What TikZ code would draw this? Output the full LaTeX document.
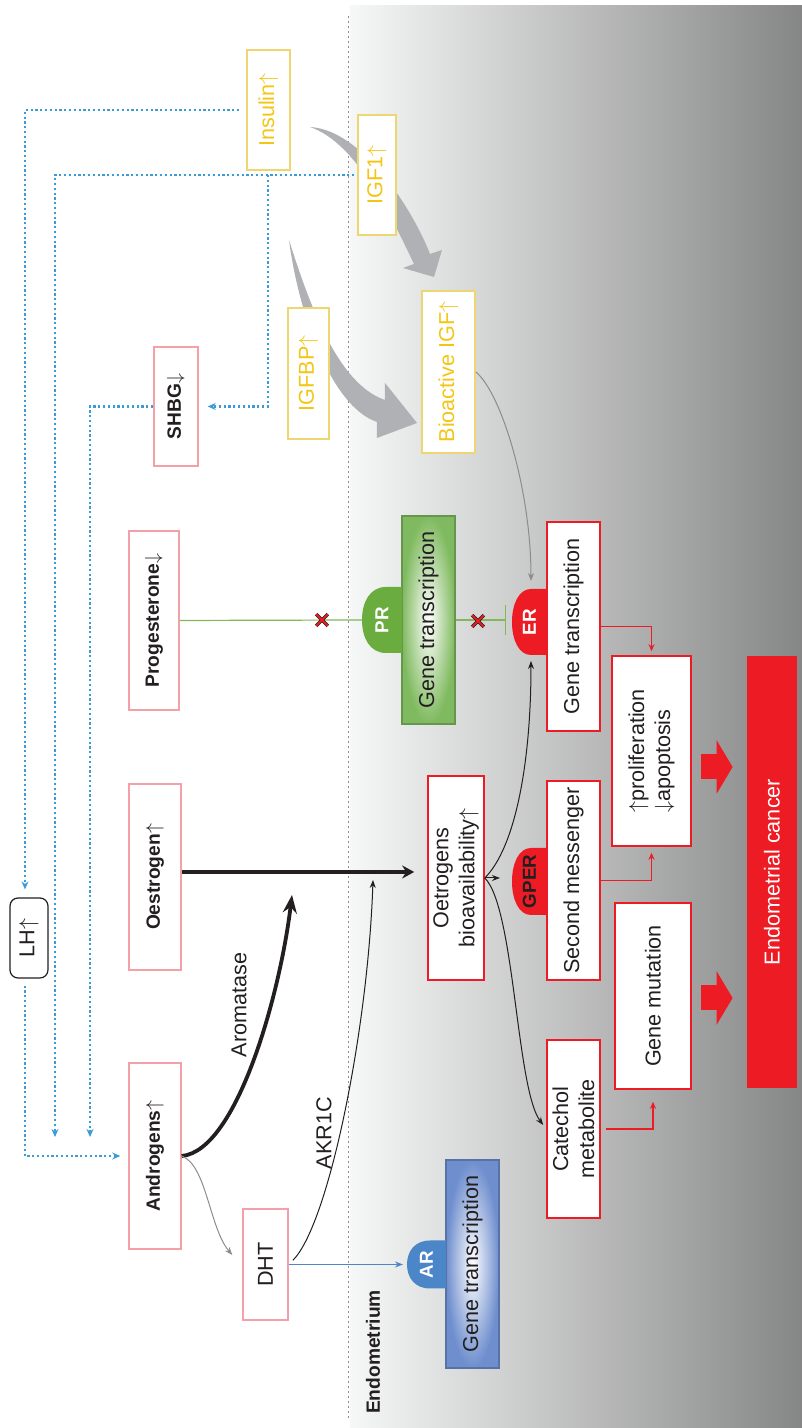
\documentclass[tikz,border=0pt]{standalone}
\usepackage{fontspec}
\setmainfont{Liberation Sans}
\usetikzlibrary{arrows.meta,shapes.misc}

\definecolor{inkblack}{RGB}{35,31,32}
\definecolor{pinkline}{RGB}{244,160,168}
\definecolor{igfline}{RGB}{238,214,112}
\definecolor{igftext}{RGB}{244,198,20}
\definecolor{bloodred}{RGB}{237,28,36}
\definecolor{prgreen}{RGB}{106,172,62}
\definecolor{boxgreen}{RGB}{128,186,96}
\definecolor{arblue}{RGB}{74,134,200}
\definecolor{boxblue}{RGB}{110,142,206}
\definecolor{dotblue}{RGB}{58,155,216}
\definecolor{arrowgray}{RGB}{176,177,181}
\definecolor{bgleft}{RGB}{246,247,247}
\definecolor{bgright}{RGB}{134,134,134}

\tikzset{
  hormone/.style={draw=pinkline, fill=white, line width=0.7pt, inner sep=0pt,
    font=\fontsize{9.6}{11}\selectfont\bfseries, text=inkblack},
  igfbox/.style={draw=igfline, fill=white, line width=0.8pt, inner sep=0pt,
    font=\fontsize{10.8}{13}\selectfont, text=igftext},
  erbox/.style={draw=bloodred, fill=white, line width=0.8pt, inner sep=0pt,
    font=\fontsize{10.8}{13}\selectfont, text=inkblack, align=center},
  genebox/.style={draw=#1!80!black, line width=0.6pt, inner color=white, outer color=#1,
    inner sep=0pt, font=\fontsize{10.8}{13}\selectfont, text=inkblack},
  plainlabel/.style={inner sep=0pt, font=\fontsize{10.8}{13}\selectfont, text=inkblack},
  boldlabel/.style={inner sep=0pt, font=\fontsize{9.6}{11}\selectfont\bfseries, text=inkblack},
  receptorlabel/.style={inner sep=0pt, font=\fontsize{9.4}{11}\selectfont\bfseries},
  sepline/.style={draw=black!45, line width=0.5pt, dash pattern=on 1pt off 1.5pt},
  dotarrow/.style={draw=dotblue, line width=1.1pt, dash pattern=on 1.1pt off 1.3pt,
    -{Stealth[length=4pt,width=3.5pt]}},
  thinarrow/.style={draw=inkblack, line width=0.5pt, -{Stealth[length=4pt,width=3pt]}},
  grayarrow/.style={draw=black!45, line width=0.5pt, -{Stealth[length=4pt,width=3pt]}},
  bluearrow/.style={draw=arblue, line width=0.6pt, -{Stealth[length=4pt,width=3pt]}},
  redarrow/.style={draw=bloodred, line width=0.6pt, -{Stealth[length=3.5pt,width=3pt]}},
  greenline/.style={draw=prgreen!85, line width=0.6pt},
  thickarrow/.style={draw=inkblack, line width=2pt, -{Stealth[length=6pt,width=6.5pt]}},
  aromarrow/.style={draw=inkblack, line width=1.9pt, -{Stealth[length=9pt,width=7pt]}},
  blockarrow/.style={draw=bloodred, line width=12.5pt, -{Triangle[length=8pt,width=26.5pt]},
    shorten <=4.5pt, shorten >=7pt},
  redx/.style={cross out, draw=inkblack, double=bloodred, double distance=1pt,
    line width=0.35pt, minimum size=5.5pt, inner sep=0pt}
}

\newcommand{\receptor}[7]{%
  \begin{scope}[shift={#2}]
    \fill[#5] (-#3,0) -- (-#3,16) .. controls (-#3,0.8*#4) and (-0.55*#3,#4) .. (0,#4)
      .. controls (0.55*#3,#4) and (#3,0.8*#4) .. (#3,16) -- (#3,0) -- cycle;
    \node[receptorlabel, text=#6] (#1) at (0,0.5*#4) {#7};
    \coordinate (#1-n) at (0,#4);
    \coordinate (#1-w) at (-#3,16);
    \coordinate (#1-e) at (#3,16);
  \end{scope}}

\begin{document}
\begin{tikzpicture}[x=0.5pt,y=0.5pt]
\useasboundingbox (-802,0) rectangle (0,1428);
\shade[left color=bgleft, right color=bgright] (-452,0) rectangle (0,1422);
\begin{scope}[rotate=90, transform shape]
\draw[sepline] (10,453) -- (1412,453);

\fill[arrowgray] (1301,492) .. controls (1298,440) and (1220,390) .. (1174,372) -- (1178,360)
  -- (1151,368) -- (1160,399) -- (1164,388) .. controls (1210,410) and (1285,445) .. (1301,492) -- cycle;
\fill[arrowgray] (1188,513) .. controls (1118,504) and (1022,472) .. (1006,425) -- (990,425)
  -- (1005,385) -- (1045,417) -- (1028,417) .. controls (1044,464) and (1122,492) .. (1188,513) -- cycle;

\node[igfbox, minimum width=60pt, minimum height=21.5pt] (insulin) at (1318,533.5) {Insulin$\uparrow$};
\node[igfbox, minimum width=60pt, minimum height=19pt] (igf1) at (1253,425) {IGF1$\uparrow$};
\node[igfbox, minimum width=65.5pt, minimum height=20.5pt] (igfbp) at (1054.5,493.5) {IGFBP$\uparrow$};
\node[igfbox, minimum width=81pt, minimum height=26.5pt] (bioigf) at (1056,353.5) {Bioactive IGF$\uparrow$};
\node[hormone, minimum width=59.5pt, minimum height=22pt] (shbg) at (1021.5,626) {SHBG$\downarrow$};
\node[hormone, minimum width=89.5pt, minimum height=25pt] (progesterone) at (807.5,648) {Progesterone$\downarrow$};
\node[hormone, minimum width=93pt, minimum height=26pt] (oestrogen) at (551,647) {Oestrogen$\uparrow$};
\node[hormone, minimum width=93pt, minimum height=26pt] (androgens) at (272,647) {Androgens$\uparrow$};
\node[hormone, font=\fontsize{10.8}{13}\selectfont, minimum width=55.5pt, minimum height=22.5pt] (dht) at (163.5,536.5) {DHT};
\node[plainlabel, draw=inkblack, fill=white, line width=0.6pt, rounded corners=4pt,
  minimum width=40pt, minimum height=19pt] (lh) at (490,773) {LH$\uparrow$};

\node[genebox=boxgreen, minimum width=104pt, minimum height=26.5pt] (prgene) at (808,373.5) {Gene transcription};
\node[genebox=boxblue, minimum width=104pt, minimum height=26.5pt] (argene) at (164,329.5) {Gene transcription};
\node[erbox, minimum width=104.5pt, minimum height=26.5pt] (ergene) at (801.5,228.5) {Gene transcription};
\node[erbox, minimum width=102pt, minimum height=28pt] (oetro) at (550,346) {Oetrogens\\bioavailability$\uparrow$};
\node[erbox, minimum width=99.5pt, minimum height=26.5pt] (secmsg) at (547.5,228.5) {Second messenger};
\node[erbox, align=left, minimum width=95pt, minimum height=39.5pt] (prolif) at (677,150.5) {$\uparrow$proliferation\\$\downarrow$apoptosis};
\node[erbox, minimum width=93pt, minimum height=38pt] (genemut) at (432,149) {Gene mutation};
\node[erbox, minimum width=89pt, minimum height=26.5pt] (catechol) at (299,228.5) {Catechol\\metabolite};
\node[plainlabel, fill=bloodred, text=white, minimum width=216pt, minimum height=25pt] (cancer) at (556,30) {Endometrial cancer};

\receptor{pr}{(808,400)}{33}{40}{prgreen}{white}{PR}
\receptor{er}{(806,255)}{33}{35}{bloodred}{white}{ER}
\receptor{gper}{(546.5,255)}{33.5}{35}{bloodred}{inkblack}{GPER}
\receptor{ar}{(163.5,356)}{24}{39}{arblue}{white}{AR}

\node[boldlabel] (endometrium) at (76,429) {Endometrium};
\node[plainlabel] (aromatase) at (423,563) {Aromatase};
\node[plainlabel] (akr1c) at (295,478) {AKR1C};

\coordinate (igfend) at (291,747);
\coordinate (shbgend) at (291,712);
\coordinate (igfbranch) at (1253,534);
\coordinate (aromtip) at (533,510);
\coordinate (akrtip) at (548,429);

\draw[dotarrow, shorten <=3.5pt, shorten >=4pt] (insulin.north) |- ([yshift=2pt]lh.east);
\draw[dotarrow, shorten <=3.5pt, shorten >=4pt] ([yshift=2pt]lh.west) -| (androgens.north);
\draw[dotarrow, shorten <=1.5pt] (igf1.north) |- (igfend);
\draw[dotarrow, shorten >=4.5pt] (igfbranch) -| (shbg.south);
\draw[dotarrow] (shbg.north) |- (shbgend);

\draw[greenline] (progesterone.south) -- (pr-n);
\draw[greenline, -{Bar[width=15pt]}, shorten >=3pt] (prgene.south) -- (prgene.south |- er-n);

\draw[thickarrow, shorten >=6.5pt] ([xshift=2.5pt]oestrogen.south) -- ([xshift=2.5pt]oestrogen.south |- oetro.north);
\draw[aromarrow] (androgens.south) .. controls +(5,-55) and +(-100,12) .. (aromtip);
\draw[grayarrow] (androgens.south) .. controls +(-9,-25) and +(27,23) .. ([shift={(4.75pt,5pt)}]dht.north);
\draw[thinarrow, shorten <=3pt] (dht.south) .. controls +(40,-40) and +(-150,5) .. (akrtip);
\draw[bluearrow, shorten >=2pt] (dht.south) -- (ar-n);

\draw[grayarrow, shorten >=4pt] (bioigf.south) .. controls +(-20,-25) and +(100,0) .. (er-e);
\draw[thinarrow, shorten >=3pt] (oetro.south) .. controls +(30,-30) and +(-110,0) .. (er-w);
\draw[thinarrow, shorten >=2.5pt] (oetro.south) .. controls +(-30,-30) and +(40,30) .. (catechol.north);
\draw[thinarrow, shorten >=6pt] (oetro.south) -- (oetro.south |- gper-n);

\draw[redarrow, shorten >=2pt] (ergene.south) |- (prolif.east);
\draw[redarrow, shorten >=3pt] (secmsg.south) |- (prolif.west);
\draw[redarrow, shorten <=2.5pt, shorten >=6pt] (catechol.south) |- (genemut.west);

\draw[blockarrow] ([xshift=-8pt]prolif.south) -- ([xshift=-8pt]prolif.south |- cancer.north);
\draw[blockarrow] ([xshift=-1pt]genemut.south) -- ([xshift=-1pt]genemut.south |- cancer.north);

\node[redx] (blockpr) at (808,480) {};
\node[redx] (blocker) at (807,324) {};
\end{scope}
\end{tikzpicture}
\end{document}
